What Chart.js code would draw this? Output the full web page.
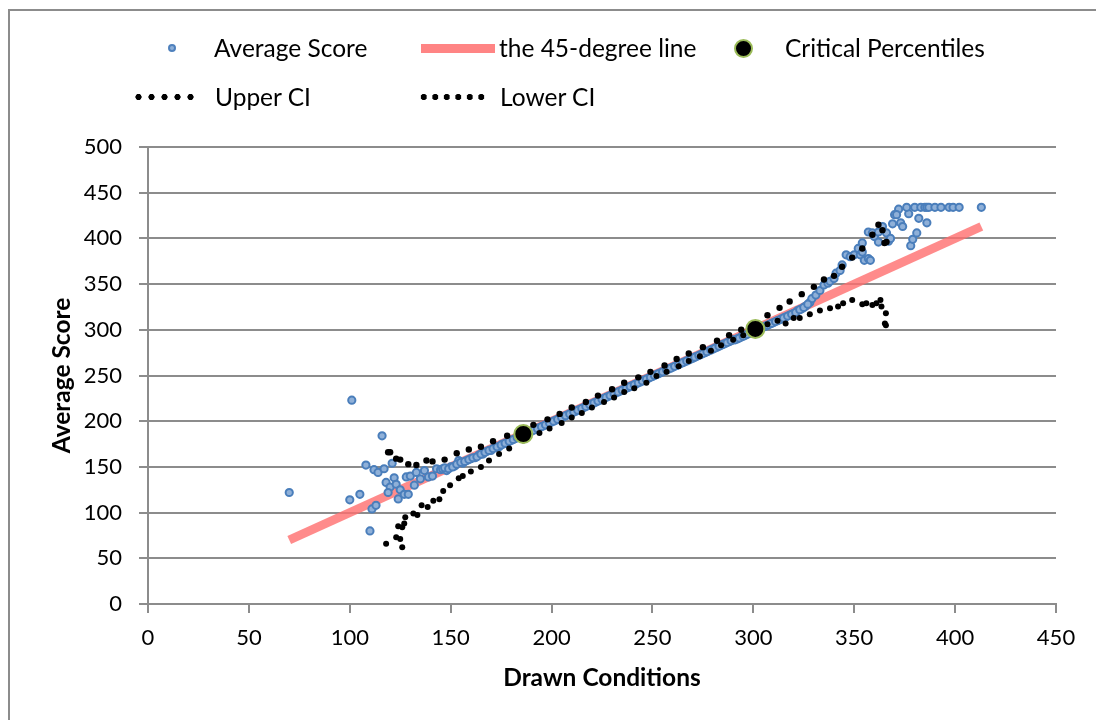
<!DOCTYPE html>
<html>
<head>
<meta charset="utf-8">
<script src="https://cdn.jsdelivr.net/npm/chart.js@4"></script>
<style>
  html, body { margin: 0; padding: 0; background: #fff; }
  #wrap { position: relative; width: 1096px; height: 720px; overflow: hidden; font-family: Lato, sans-serif; }
  #frame { position: absolute; left: 8px; top: 9px; width: 1300px; height: 900px; border: 2px solid #8c8c8c; box-sizing: border-box; }
  #chart { position: absolute; left: 0; top: 0; }
  .lg { position: absolute; font-size: 24.5px; line-height: 28px; color: #000; white-space: nowrap; }
  .sym { position: absolute; }
  .dot { width: 8px; height: 8px; border-radius: 50%; background: #8fb0d8; border: 2px solid #4f81bd; box-sizing: border-box; }
  .bar { width: 74px; height: 9px; background: rgba(255, 110, 110, 0.85); }
  .crit { width: 19px; height: 19px; border-radius: 50%; background: #000; border: 2px solid #9bbb59; box-sizing: border-box; }
  .dots { height: 8px; background: radial-gradient(circle, #000 2.8px, transparent 3.4px); background-size: 13px 8px; }
</style>
</head>
<body>
<div id="wrap">
  <div id="frame"></div>
  <canvas id="chart" width="1096" height="720"></canvas>

  <div class="sym dot" style="left:168px; top:44px;"></div>
  <div class="lg" style="left:214px; top:34px;">Average Score</div>
  <div class="sym bar" style="left:421px; top:44px;"></div>
  <div class="lg" style="left:499px; top:34px;">the 45-degree line</div>
  <div class="sym crit" style="left:734px; top:39px;"></div>
  <div class="lg" style="left:785px; top:34px;">Critical Percentiles</div>

  <div class="sym dots" style="left:132px; top:93px; width:66px;"></div>
  <div class="lg" style="left:215px; top:83px;">Upper CI</div>
  <div class="sym dots" style="left:418px; top:93px; width:68px; background-size: 11.5px 8px;"></div>
  <div class="lg" style="left:500px; top:83px;">Lower CI</div>
</div>

<script>
  // Average Score (scatter)
  const scoreX = [70, 101, 116, 108, 112, 114, 117, 121, 100, 105, 111, 113, 110, 118, 120, 122, 123, 119, 124, 125,
    127, 129, 128, 130, 132, 133, 135, 137, 139, 141, 143,
    145, 146, 148, 150, 152, 154, 156, 158, 160, 162, 164, 166, 168, 170, 172, 174, 176, 178, 180,
    182, 184, 186, 188, 190, 192, 194, 196, 198, 200, 202, 204, 206, 208, 210, 212, 214, 216, 218, 220,
    222, 224, 226, 228, 230, 232, 234, 236, 238, 240, 242, 244, 246, 248, 250, 252, 254, 256, 258, 260,
    262, 264, 266, 268, 270, 272, 274, 276, 278, 280, 282, 284, 286, 288, 290, 292, 294, 296, 298, 300,
    302, 304, 306, 308, 310, 312, 314, 316, 318, 320, 322, 324, 326, 328, 329, 331, 333, 335, 337, 338,
    340, 341, 343, 344,
    346, 348, 350, 352, 353, 354, 354, 355, 357, 358, 357, 359, 360, 362, 362, 364, 366, 367, 368, 369,
    370, 372, 371, 373, 374, 377, 376, 378, 379, 380, 381, 382, 383, 385, 386, 386, 387, 390, 393, 397,
    399, 402, 413,
    147, 149, 151, 153, 155, 157, 159, 161, 163, 165, 167, 169, 171, 173, 175, 177, 179, 181, 183, 185,
    187, 189, 191, 193, 195, 197, 199, 201, 203, 205, 207, 209, 211, 213, 215, 217, 219, 221, 223, 225,
    227, 229, 231, 233, 235, 237, 239, 241, 243, 245, 247, 249, 251, 253, 255, 257, 259, 261, 263, 265,
    267, 269, 271, 273, 275, 277, 279, 281, 283, 285, 287, 289, 291, 293, 295, 297, 299, 301, 303, 305,
    307, 309, 311, 313, 315, 317, 319, 321, 323, 325, 327];
  const scoreY = [122, 223, 184, 152, 147, 144, 148, 154, 114, 120, 104, 108, 80, 133, 128, 138, 131, 122, 115, 125,
    120, 120, 139, 140, 130, 144, 137, 146, 139, 140, 148,
    147, 148, 146, 150, 151, 157, 154, 157, 159, 160, 163, 164, 167, 168, 171, 172, 175, 176, 179,
    181, 183, 185, 187, 189, 191, 193, 195, 197, 199, 201, 203, 205, 207, 209, 211, 213, 215, 217, 219,
    221, 223, 225, 227, 229, 231, 233, 235, 237, 239, 241, 243, 245, 247, 249, 251, 253, 255, 257, 259,
    261, 263, 265, 267, 269, 271, 273, 275, 277, 279, 281, 283, 285, 287, 289, 290, 292, 294, 296, 298,
    300, 302, 304, 306, 308, 310, 312, 314, 316, 318, 321, 323, 326, 330, 334, 338, 343, 349, 351, 353,
    356, 362, 365, 371,
    382, 380, 382, 389, 382, 385, 395, 376, 378, 376, 407, 406, 402, 407, 396, 413, 406, 397, 400, 416,
    426, 432, 426, 417, 413, 427, 434, 392, 399, 434, 406, 422, 434, 434, 417, 434, 434, 434, 434, 434,
    434, 434, 434,
    149, 148, 150, 153, 155, 156, 158, 160, 161, 164, 166, 168, 170, 172, 174, 176, 178, 180, 182, 184,
    186, 188, 190, 192, 194, 196, 198, 200, 202, 204, 206, 208, 210, 212, 214, 216, 218, 220, 222, 224,
    226, 228, 230, 232, 234, 236, 238, 240, 242, 244, 246, 248, 250, 252, 254, 256, 258, 260, 262, 264,
    266, 268, 270, 272, 274, 276, 278, 280, 282, 284, 286, 288, 289, 291, 293, 295, 297, 299, 301, 303,
    305, 307, 309, 311, 313, 315, 317, 319, 322, 324.5, 328];

  // 45-degree reference line
  const diagX = [70, 413];
  const diagY = [70, 413];

  // Critical percentiles
  const critX = [186, 301];
  const critY = [186, 301];

  // Upper confidence interval
  const upperX = [119, 120, 123, 125, 129, 133, 138, 141, 147, 153, 159, 165, 171, 178, 185, 191, 198, 204, 210, 217,
    223, 230, 236, 243, 249, 256, 262, 268, 275, 282, 288, 294, 300, 307, 313, 318, 324, 330, 335, 340,
    344, 349, 354, 359, 362, 364, 366, 365];
  const upperY = [166, 166, 159, 158, 153, 152, 157, 156, 158, 165, 169, 172, 178, 184, 190, 196, 202, 208, 215, 221,
    228, 235, 242, 248, 254, 261, 268, 274, 281, 288, 294, 300, 307, 316, 324, 331, 339, 347, 355, 359,
    369, 379, 389, 404, 415, 409, 396, 395];

  // Lower confidence interval
  const lowerX = [118, 123, 126, 125, 124, 126, 127, 127.5, 131.5, 133.5, 135.6, 138.6, 141.4, 144.4, 146.3, 149.7, 154, 156, 160, 165,
    169, 174, 179, 186, 194, 199, 205, 210, 215, 220, 226, 231, 236, 241, 247, 252, 257, 263, 268, 273.5,
    279, 284, 290, 295, 301, 307, 312, 316, 320, 323, 328, 333, 338, 342, 344.5, 349, 354, 356, 359, 361,
    363, 363.5, 365.7, 365.2, 365.7];
  const lowerY = [66, 73, 62, 71, 85, 84, 88, 95, 99, 97.5, 108, 106, 113, 114.5, 123.6, 130, 137.5, 140, 145, 150,
    157, 164, 170, 179, 187, 192, 198, 204, 209, 215, 221, 226, 232, 236, 242, 249.5, 254, 260, 266, 271,
    277, 283, 289, 294, 300, 306, 310, 307, 313, 313, 317, 321, 323.5, 325.4, 329, 332.6, 328, 329, 327, 329,
    332.6, 325.4, 318, 307, 305];

  const xTicks = [0, 50, 100, 150, 200, 250, 300, 350, 400, 450];
  const yTicks = [0, 50, 100, 150, 200, 250, 300, 350, 400, 450, 500];

  function pairs(xs, ys) {
    return xs.map((x, i) => ({ x: x, y: ys[i] }));
  }

  const gridGray = "#8c8c8c";
  const tickFont = { family: "Lato", size: 22 };
  const titleFont = { family: "Lato", size: 24.5, weight: "bold" };

  new Chart(document.getElementById("chart"), {
    type: "scatter",
    data: {
      datasets: [
        {
          label: "Average Score",
          data: pairs(scoreX, scoreY),
          pointRadius: 3.6,
          pointBorderWidth: 2,
          pointBackgroundColor: "#8fb0d8",
          pointBorderColor: "#4a7ebb",
          order: 2,
        },
        {
          label: "the 45-degree line",
          data: pairs(diagX, diagY),
          showLine: true,
          borderColor: "rgba(255, 110, 110, 0.8)",
          borderWidth: 9,
          borderCapStyle: "butt",
          pointRadius: 0,
          order: 3,
        },
        {
          label: "Critical Percentiles",
          data: pairs(critX, critY),
          pointRadius: 9,
          pointBorderWidth: 2,
          pointBackgroundColor: "#000",
          pointBorderColor: "#9bbb59",
          order: 0,
        },
        {
          label: "Upper CI",
          data: pairs(upperX, upperY),
          pointRadius: 3.2,
          pointBorderWidth: 0,
          pointBackgroundColor: "#000",
          order: 1,
        },
        {
          label: "Lower CI",
          data: pairs(lowerX, lowerY),
          pointRadius: 3,
          pointBorderWidth: 0,
          pointBackgroundColor: "#000",
          order: 1,
        },
      ],
    },
    options: {
      responsive: false,
      animation: false,
      layout: { padding: { top: 147, right: 40, left: 0, bottom: 0 } },
      plugins: { legend: { display: false }, tooltip: { enabled: false } },
      scales: {
        x: {
          type: "linear",
          min: 0,
          max: 450,
          afterBuildTicks: (s) => { s.ticks = xTicks.map((v) => ({ value: v })); },
          afterFit: (s) => { s.height = 116; },
          ticks: { font: tickFont, color: "#000", padding: 12, maxRotation: 0 },
          grid: { drawOnChartArea: false, drawTicks: true, tickLength: 9, color: gridGray, lineWidth: 2 },
          border: { color: gridGray, width: 2 },
          title: { display: true, text: "Drawn Conditions", font: titleFont, color: "#000", padding: { top: 0, bottom: 27 } },
        },
        y: {
          type: "linear",
          min: 0,
          max: 500,
          afterBuildTicks: (s) => { s.ticks = yTicks.map((v) => ({ value: v })); },
          afterFit: (s) => { s.width = 148; },
          ticks: { font: tickFont, color: "#000", padding: 17 },
          grid: { drawTicks: true, tickLength: 9, color: gridGray, lineWidth: 2 },
          border: { color: gridGray, width: 2 },
          title: { display: true, text: "Average Score", font: titleFont, color: "#000", padding: { top: 47, bottom: 0 } },
        },
      },
    },
  });
</script>
</body>
</html>
